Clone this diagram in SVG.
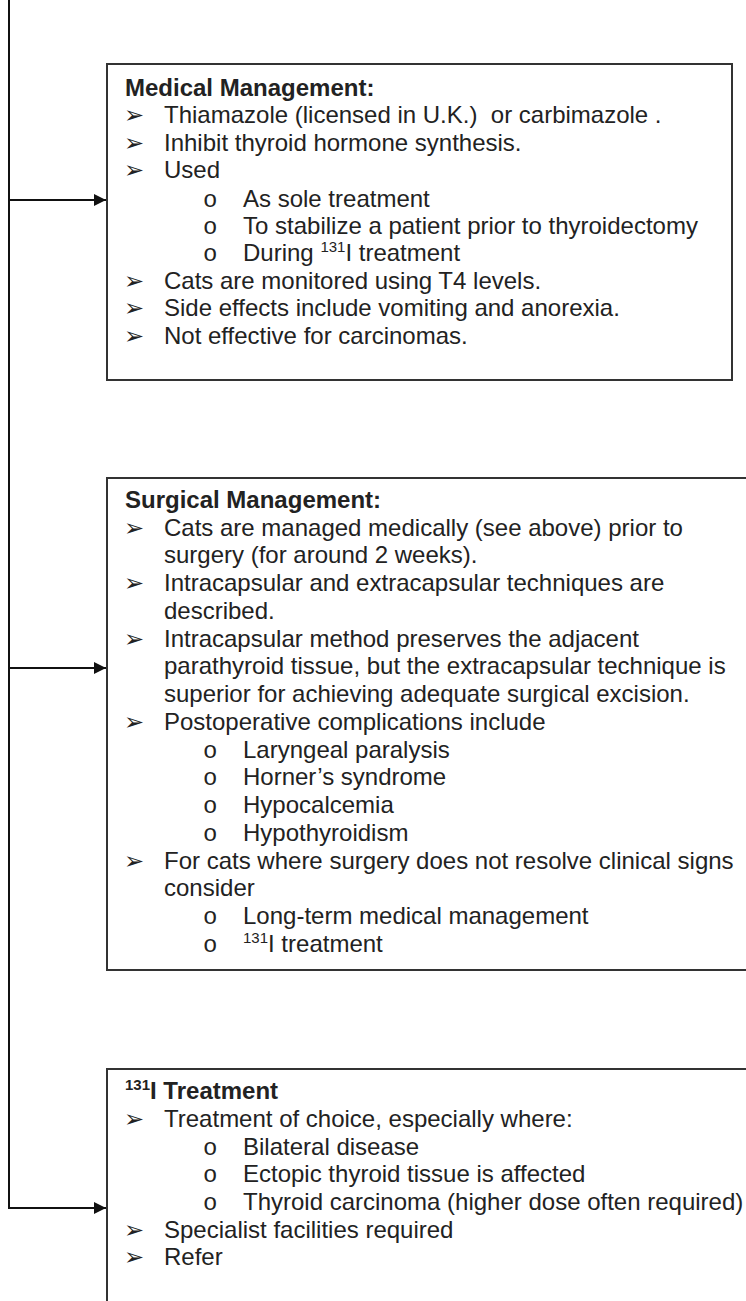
<svg xmlns="http://www.w3.org/2000/svg" width="746" height="1301" viewBox="0 0 746 1301">
<style>
.box{fill:#fff;stroke:#333;stroke-width:2}
.con{fill:none;stroke:#111;stroke-width:2}
text{font-family:"Liberation Sans",Arial,sans-serif;font-size:24px;fill:#222}
.h{font-weight:bold}
.b{font-family:"DejaVu Sans",sans-serif;font-size:24px}
.o{font-family:"Liberation Mono","Courier New",monospace;font-size:24px}
.sup{font-size:15px}
</style>
<defs>
<marker id="ah" viewBox="0 0 12 12" refX="12" refY="6" markerWidth="12" markerHeight="12" markerUnits="userSpaceOnUse" orient="auto">
<path d="M0,0 L12,6 L0,12 Z" fill="#111"/>
</marker>
</defs>
<g id="connectors">
<path class="con" d="M9,0 V1208 H106" marker-end="url(#ah)"/>
<path class="con" d="M9,200 H106" marker-end="url(#ah)"/>
<path class="con" d="M9,668 H106" marker-end="url(#ah)"/>
</g>
<g id="medical">
<rect class="box" x="107" y="64" width="625" height="316"/>
<text class="h" x="125" y="96">Medical Management:</text>
<text class="b" x="124" y="123">➢</text><text x="164" y="123" xml:space="preserve">Thiamazole (licensed in U.K.)  or carbimazole .</text>
<text class="b" x="124" y="151">➢</text><text x="164" y="151">Inhibit thyroid hormone synthesis.</text>
<text class="b" x="124" y="178">➢</text><text x="164" y="178">Used</text>
<text class="o" x="203" y="207">o</text><text x="243" y="207">As sole treatment</text>
<text class="o" x="203" y="234">o</text><text x="243" y="234">To stabilize a patient prior to thyroidectomy</text>
<text class="o" x="203" y="261">o</text><text x="243" y="261">During <tspan class="sup" dy="-9">131</tspan><tspan dy="9">I treatment</tspan></text>
<text class="b" x="124" y="289">➢</text><text x="164" y="289">Cats are monitored using T4 levels.</text>
<text class="b" x="124" y="316">➢</text><text x="164" y="316">Side effects include vomiting and anorexia.</text>
<text class="b" x="124" y="344">➢</text><text x="164" y="344">Not effective for carcinomas.</text>
</g>
<g id="surgical">
<rect class="box" x="107" y="478" width="700" height="492"/>
<text class="h" x="125" y="508">Surgical Management:</text>
<text class="b" x="124" y="536">➢</text><text x="164" y="536">Cats are managed medically (see above) prior to</text>
<text x="164" y="563">surgery (for around 2 weeks).</text>
<text class="b" x="124" y="591">➢</text><text x="164" y="591">Intracapsular and extracapsular techniques are</text>
<text x="164" y="619">described.</text>
<text class="b" x="124" y="647">➢</text><text x="164" y="647">Intracapsular method preserves the adjacent</text>
<text x="164" y="674">parathyroid tissue, but the extracapsular technique is</text>
<text x="164" y="702">superior for achieving adequate surgical excision.</text>
<text class="b" x="124" y="730">➢</text><text x="164" y="730">Postoperative complications include</text>
<text class="o" x="203" y="758">o</text><text x="243" y="758">Laryngeal paralysis</text>
<text class="o" x="203" y="785">o</text><text x="243" y="785">Horner’s syndrome</text>
<text class="o" x="203" y="813">o</text><text x="243" y="813">Hypocalcemia</text>
<text class="o" x="203" y="841">o</text><text x="243" y="841">Hypothyroidism</text>
<text class="b" x="124" y="869">➢</text><text x="164" y="869">For cats where surgery does not resolve clinical signs</text>
<text x="164" y="896">consider</text>
<text class="o" x="203" y="924">o</text><text x="243" y="924">Long-term medical management</text>
<text class="o" x="203" y="952">o</text><text x="243" y="952"><tspan class="sup" dy="-9">131</tspan><tspan dy="9">I treatment</tspan></text>
</g>
<g id="iodine">
<rect class="box" x="107" y="1069" width="700" height="300"/>
<text class="h" x="125" y="1099"><tspan class="sup" dy="-9">131</tspan><tspan dy="9">I Treatment</tspan></text>
<text class="b" x="124" y="1127">➢</text><text x="164" y="1127">Treatment of choice, especially where:</text>
<text class="o" x="203" y="1155">o</text><text x="243" y="1155">Bilateral disease</text>
<text class="o" x="203" y="1182">o</text><text x="243" y="1182">Ectopic thyroid tissue is affected</text>
<text class="o" x="203" y="1210">o</text><text x="243" y="1210">Thyroid carcinoma (higher dose often required)</text>
<text class="b" x="124" y="1238">➢</text><text x="164" y="1238">Specialist facilities required</text>
<text class="b" x="124" y="1265">➢</text><text x="164" y="1265">Refer</text>
</g>
</svg>
